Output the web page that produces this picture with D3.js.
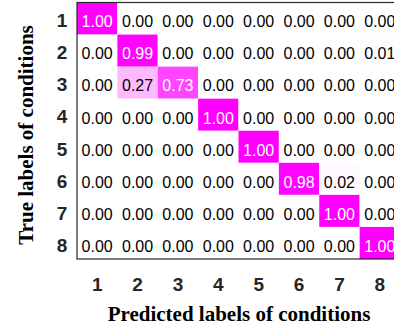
<!DOCTYPE html>
<html>
<head>
<meta charset="utf-8">
<script src="https://cdn.jsdelivr.net/npm/d3@7"></script>
<style>
  body { margin: 0; background: #fff; }
  svg { display: block; }
</style>
</head>
<body>
<svg id="cm" width="394" height="327"></svg>
<script>
// class labels (true rows / predicted columns)
var classes = ["1", "2", "3", "4", "5", "6", "7", "8"];

// confusion matrix, one array per true label
var row1 = [1.00, 0.00, 0.00, 0.00, 0.00, 0.00, 0.00, 0.00];
var row2 = [0.00, 0.99, 0.00, 0.00, 0.00, 0.00, 0.00, 0.01];
var row3 = [0.00, 0.27, 0.73, 0.00, 0.00, 0.00, 0.00, 0.00];
var row4 = [0.00, 0.00, 0.00, 1.00, 0.00, 0.00, 0.00, 0.00];
var row5 = [0.00, 0.00, 0.00, 0.00, 1.00, 0.00, 0.00, 0.00];
var row6 = [0.00, 0.00, 0.00, 0.00, 0.00, 0.98, 0.02, 0.00];
var row7 = [0.00, 0.00, 0.00, 0.00, 0.00, 0.00, 1.00, 0.00];
var row8 = [0.00, 0.00, 0.00, 0.00, 0.00, 0.00, 0.00, 1.00];
var rows = [row1, row2, row3, row4, row5, row6, row7, row8];

var xTitle = "Predicted labels of conditions";
var yTitle = "True labels of conditions";

var svg = d3.select("#cm");

var plotL = 77, plotR = 400, plotT = 2.5, plotB = 259;

var x = d3.scaleBand().domain(classes).range([plotL, plotR]);
var y = d3.scaleBand().domain(classes).range([plotT, plotB]);
var color = d3.scaleLinear().domain([0, 1]).range(["#ffffff", "#ff00ff"]);

// flatten to cells
var cells = [];
rows.forEach(function(r, i) {
    r.forEach(function(v, j) {
        cells.push({row: classes[i], col: classes[j], value: v});
    });
});

svg.append("g")
    .selectAll("rect")
    .data(cells)
    .enter().append("rect")
    .attr("x", function(d) { return x(d.col); })
    .attr("y", function(d) { return y(d.row); })
    .attr("width", x.bandwidth())
    .attr("height", y.bandwidth())
    .attr("fill", function(d) { return color(d.value); });

svg.append("g")
    .selectAll("text")
    .data(cells)
    .enter().append("text")
    .attr("x", function(d) { return x(d.col) + x.bandwidth() / 2; })
    .attr("y", function(d) { return y(d.row) + y.bandwidth() / 2; })
    .attr("dy", "0.55em")
    .attr("text-anchor", "middle")
    .style("font-family", "'Liberation Sans', Arial, sans-serif")
    .style("font-size", "16px")
    .attr("fill", function(d) { return d.value > 0.5 ? "#ffffff" : "#000000"; })
    .text(function(d) { return d.value.toFixed(2); });

// frame
svg.append("rect")
    .attr("x", plotL)
    .attr("y", plotT)
    .attr("width", plotR - plotL)
    .attr("height", plotB - plotT)
    .attr("fill", "none")
    .attr("stroke", "#262626")
    .attr("stroke-width", 1.2);

// row labels
svg.append("g")
    .selectAll("text")
    .data(classes)
    .enter().append("text")
    .attr("x", 62)
    .attr("y", function(d) { return y(d) + y.bandwidth() / 2; })
    .attr("dy", "0.46em")
    .attr("text-anchor", "middle")
    .style("font-family", "'Liberation Sans', Arial, sans-serif")
    .style("font-size", "19px")
    .style("font-weight", "bold")
    .attr("fill", "#262626")
    .text(function(d) { return d; });

// column labels
svg.append("g")
    .selectAll("text")
    .data(classes)
    .enter().append("text")
    .attr("x", function(d) { return x(d) + x.bandwidth() / 2; })
    .attr("y", 291)
    .attr("text-anchor", "middle")
    .style("font-family", "'Liberation Sans', Arial, sans-serif")
    .style("font-size", "19px")
    .style("font-weight", "bold")
    .attr("fill", "#262626")
    .text(function(d) { return d; });

// axis titles
svg.append("text")
    .attr("x", 239)
    .attr("y", 321)
    .attr("text-anchor", "middle")
    .style("font-family", "'Liberation Serif', 'Times New Roman', serif")
    .style("font-size", "21px")
    .style("font-weight", "bold")
    .text(xTitle);

svg.append("text")
    .attr("transform", "translate(33,135) rotate(-90)")
    .attr("text-anchor", "middle")
    .style("font-family", "'Liberation Serif', 'Times New Roman', serif")
    .style("font-size", "21px")
    .style("font-weight", "bold")
    .text(yTitle);
</script>
</body>
</html>
